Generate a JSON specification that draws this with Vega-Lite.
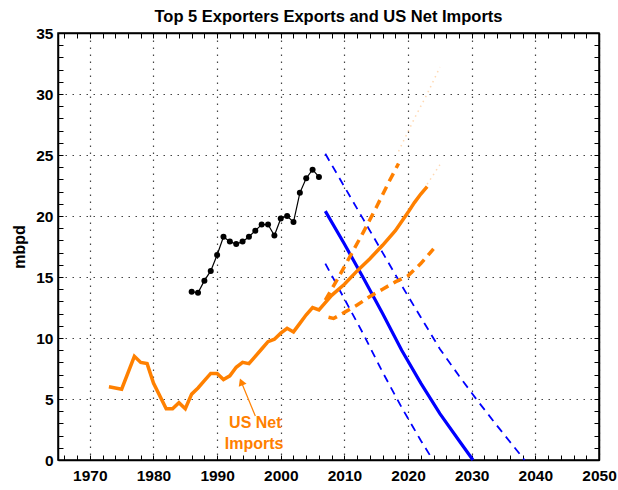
{
  "$schema": "https://vega.github.io/schema/vega-lite/v6.json",
  "width": 541,
  "height": 427,
  "autosize": {"type": "none"},
  "padding": {"left": 58, "top": 33, "right": 19, "bottom": 30},
  "background": "white",
  "title": {"text": "Top 5 Exporters Exports and US Net Imports", "font": "Liberation Sans", "fontSize": 16.5, "fontWeight": "bold", "color": "black", "offset": 1, "anchor": "middle"},
  "config": {
    "view": {"stroke": "black", "strokeWidth": 1.5},
    "axis": {"labelFont": "Liberation Sans", "labelFontSize": 15.5, "labelFontWeight": "bold", "labelColor": "black", "titleFont": "Liberation Sans", "titleFontWeight": "bold", "titleColor": "black", "domainColor": "black", "domainWidth": 1.5, "tickColor": "black"}
  },
  "datasets": {
    "lines": [
      {"series": "exports", "year": 1986, "value": 13.8},
      {"series": "exports", "year": 1987, "value": 13.7},
      {"series": "exports", "year": 1988, "value": 14.7},
      {"series": "exports", "year": 1989, "value": 15.5},
      {"series": "exports", "year": 1990, "value": 16.8},
      {"series": "exports", "year": 1991, "value": 18.3},
      {"series": "exports", "year": 1992, "value": 17.9},
      {"series": "exports", "year": 1993, "value": 17.7},
      {"series": "exports", "year": 1994, "value": 17.9},
      {"series": "exports", "year": 1995, "value": 18.3},
      {"series": "exports", "year": 1996, "value": 18.8},
      {"series": "exports", "year": 1997, "value": 19.3},
      {"series": "exports", "year": 1998, "value": 19.3},
      {"series": "exports", "year": 1999, "value": 18.4},
      {"series": "exports", "year": 2000, "value": 19.8},
      {"series": "exports", "year": 2001, "value": 20.0},
      {"series": "exports", "year": 2002, "value": 19.5},
      {"series": "exports", "year": 2003, "value": 21.9},
      {"series": "exports", "year": 2004, "value": 23.1},
      {"series": "exports", "year": 2005, "value": 23.8},
      {"series": "exports", "year": 2006, "value": 23.2},

      {"series": "imports", "year": 1973, "value": 6.0},
      {"series": "imports", "year": 1975, "value": 5.8},
      {"series": "imports", "year": 1977, "value": 8.5},
      {"series": "imports", "year": 1978, "value": 8.0},
      {"series": "imports", "year": 1979, "value": 7.9},
      {"series": "imports", "year": 1980, "value": 6.3},
      {"series": "imports", "year": 1982, "value": 4.2},
      {"series": "imports", "year": 1983, "value": 4.2},
      {"series": "imports", "year": 1984, "value": 4.7},
      {"series": "imports", "year": 1985, "value": 4.2},
      {"series": "imports", "year": 1986, "value": 5.4},
      {"series": "imports", "year": 1987, "value": 5.9},
      {"series": "imports", "year": 1988, "value": 6.5},
      {"series": "imports", "year": 1989, "value": 7.1},
      {"series": "imports", "year": 1990, "value": 7.1},
      {"series": "imports", "year": 1991, "value": 6.6},
      {"series": "imports", "year": 1992, "value": 6.9},
      {"series": "imports", "year": 1993, "value": 7.6},
      {"series": "imports", "year": 1994, "value": 8.0},
      {"series": "imports", "year": 1995, "value": 7.9},
      {"series": "imports", "year": 1996, "value": 8.5},
      {"series": "imports", "year": 1997, "value": 9.1},
      {"series": "imports", "year": 1998, "value": 9.7},
      {"series": "imports", "year": 1999, "value": 9.9},
      {"series": "imports", "year": 2000, "value": 10.4},
      {"series": "imports", "year": 2001, "value": 10.8},
      {"series": "imports", "year": 2002, "value": 10.5},
      {"series": "imports", "year": 2003, "value": 11.2},
      {"series": "imports", "year": 2004, "value": 11.9},
      {"series": "imports", "year": 2005, "value": 12.5},
      {"series": "imports", "year": 2006, "value": 12.3},
      {"series": "imports", "year": 2007, "value": 12.9},
      {"series": "imports", "year": 2008, "value": 13.5},
      {"series": "imports", "year": 2010, "value": 14.4},
      {"series": "imports", "year": 2012, "value": 15.5},
      {"series": "imports", "year": 2014, "value": 16.5},
      {"series": "imports", "year": 2016, "value": 17.6},
      {"series": "imports", "year": 2018, "value": 18.8},
      {"series": "imports", "year": 2020, "value": 20.3},
      {"series": "imports", "year": 2021, "value": 21.1},
      {"series": "imports", "year": 2022, "value": 21.8},
      {"series": "imports", "year": 2023, "value": 22.4},

      {"series": "imports_hi", "year": 2007, "value": 13.1},
      {"series": "imports_hi", "year": 2009, "value": 14.9},
      {"series": "imports_hi", "year": 2011, "value": 16.8},
      {"series": "imports_hi", "year": 2013, "value": 18.7},
      {"series": "imports_hi", "year": 2015, "value": 20.7},
      {"series": "imports_hi", "year": 2017, "value": 22.8},
      {"series": "imports_hi", "year": 2018.5, "value": 24.3},

      {"series": "imports_lo", "year": 2007.5, "value": 11.7},
      {"series": "imports_lo", "year": 2008.3, "value": 11.6},
      {"series": "imports_lo", "year": 2010, "value": 12.1},
      {"series": "imports_lo", "year": 2012, "value": 12.7},
      {"series": "imports_lo", "year": 2014, "value": 13.4},
      {"series": "imports_lo", "year": 2016, "value": 14.0},
      {"series": "imports_lo", "year": 2018, "value": 14.6},
      {"series": "imports_lo", "year": 2020, "value": 15.1},
      {"series": "imports_lo", "year": 2022, "value": 16.1},
      {"series": "imports_lo", "year": 2024, "value": 17.3},

      {"series": "imports_hi_ext", "year": 2018.5, "value": 25.3},
      {"series": "imports_hi_ext", "year": 2021, "value": 28.0},
      {"series": "imports_hi_ext", "year": 2023, "value": 30.0},
      {"series": "imports_hi_ext", "year": 2025, "value": 32.2},
      {"series": "imports_mid_ext", "year": 2023, "value": 22.6},
      {"series": "imports_mid_ext", "year": 2025, "value": 24.2},

      {"series": "decline", "year": 2007, "value": 20.4},
      {"series": "decline", "year": 2010, "value": 17.7},
      {"series": "decline", "year": 2013, "value": 14.9},
      {"series": "decline", "year": 2016, "value": 12.0},
      {"series": "decline", "year": 2019, "value": 9.0},
      {"series": "decline", "year": 2022, "value": 6.3},
      {"series": "decline", "year": 2025, "value": 3.8},
      {"series": "decline", "year": 2028, "value": 1.6},
      {"series": "decline", "year": 2030.2, "value": 0},

      {"series": "decline_hi", "year": 2007, "value": 25.1},
      {"series": "decline_hi", "year": 2010, "value": 22.4},
      {"series": "decline_hi", "year": 2013, "value": 19.7},
      {"series": "decline_hi", "year": 2016, "value": 17.0},
      {"series": "decline_hi", "year": 2019, "value": 14.3},
      {"series": "decline_hi", "year": 2022, "value": 11.7},
      {"series": "decline_hi", "year": 2025, "value": 9.1},
      {"series": "decline_hi", "year": 2028, "value": 6.9},
      {"series": "decline_hi", "year": 2031, "value": 4.8},
      {"series": "decline_hi", "year": 2034, "value": 2.8},
      {"series": "decline_hi", "year": 2038.3, "value": 0},

      {"series": "decline_lo", "year": 2007, "value": 16.1},
      {"series": "decline_lo", "year": 2010, "value": 13.2},
      {"series": "decline_lo", "year": 2013, "value": 10.3},
      {"series": "decline_lo", "year": 2016, "value": 7.2},
      {"series": "decline_lo", "year": 2019, "value": 4.3},
      {"series": "decline_lo", "year": 2022, "value": 1.6},
      {"series": "decline_lo", "year": 2023.9, "value": 0}
    ],
    "note": [
      {"text": "US Net", "year": 1996.0, "value": 3.0},
      {"text": "Imports", "year": 1995.8, "value": 1.3}
    ],
    "arrow": [
      {"year": 1996.0, "value": 3.6, "year2": 1993.8, "value2": 6.4}
    ]
  },
  "resolve": {"axis": {"x": "independent", "y": "independent"}},
  "layer": [
    {
      "data": {"name": "lines"},
      "transform": [{"filter": "datum.series === 'exports'"}],
      "mark": {"type": "line", "color": "black", "strokeWidth": 1.2, "point": {"filled": true, "size": 36, "color": "black"}},
      "encoding": {
        "x": {"field": "year", "type": "quantitative", "scale": {"domain": [1965, 2050], "nice": false, "zero": false},
          "axis": {"orient": "bottom", "title": null, "values": [1966,1968,1970,1972,1974,1976,1978,1980,1982,1984,1986,1988,1990,1992,1994,1996,1998,2000,2002,2004,2006,2008,2010,2012,2014,2016,2018,2020,2022,2024,2026,2028,2030,2032,2034,2036,2038,2040,2042,2044,2046,2048,2050],
            "format": "d", "labelExpr": "datum.value % 10 === 0 ? datum.label : ''", "tickSize": -5, "labelPadding": 13, "labelFlush": false, "labelOverlap": false,
            "grid": true, "gridColor": "#444", "gridDash": [1.5, 5.5], "gridWidth": 1.2, "gridOpacity": {"condition": {"test": "datum.value % 10 === 0", "value": 1}, "value": 0}}},
        "y": {"field": "value", "type": "quantitative", "scale": {"domain": [0, 35], "nice": false},
          "axis": {"orient": "left", "title": "mbpd", "titleFontSize": 16, "titlePadding": 8, "values": [0,1,2,3,4,5,6,7,8,9,10,11,12,13,14,15,16,17,18,19,20,21,22,23,24,25,26,27,28,29,30,31,32,33,34,35],
            "labelExpr": "datum.value % 5 === 0 ? datum.label : ''", "tickSize": -5, "labelPadding": 10, "labelFlush": false, "labelOverlap": false,
            "grid": true, "gridColor": "#444", "gridDash": [1.5, 5.5], "gridWidth": 1.2, "gridOpacity": {"condition": {"test": "datum.value % 5 === 0", "value": 1}, "value": 0}}}
      }
    },
    {
      "data": {"name": "lines"},
      "transform": [{"filter": "datum.series === 'decline_hi' || datum.series === 'decline_lo'"}],
      "mark": {"type": "line", "color": "#0000ff", "strokeWidth": 1.8, "strokeDash": [8, 6]},
      "encoding": {
        "x": {"field": "year", "type": "quantitative",
          "axis": {"orient": "top", "title": null, "labels": false, "grid": false, "tickSize": -5, "values": [1966,1968,1970,1972,1974,1976,1978,1980,1982,1984,1986,1988,1990,1992,1994,1996,1998,2000,2002,2004,2006,2008,2010,2012,2014,2016,2018,2020,2022,2024,2026,2028,2030,2032,2034,2036,2038,2040,2042,2044,2046,2048,2050]}},
        "y": {"field": "value", "type": "quantitative",
          "axis": {"orient": "right", "title": null, "labels": false, "grid": false, "tickSize": -5, "values": [0,1,2,3,4,5,6,7,8,9,10,11,12,13,14,15,16,17,18,19,20,21,22,23,24,25,26,27,28,29,30,31,32,33,34,35]}},
        "detail": {"field": "series"}
      }
    },
    {
      "data": {"name": "lines"},
      "transform": [{"filter": "datum.series === 'decline'"}],
      "mark": {"type": "line", "color": "#0000ff", "strokeWidth": 3.2},
      "encoding": {
        "x": {"field": "year", "type": "quantitative", "axis": null},
        "y": {"field": "value", "type": "quantitative", "axis": null}
      }
    },
    {
      "data": {"name": "lines"},
      "transform": [{"filter": "datum.series === 'imports_hi_ext' || datum.series === 'imports_mid_ext'"}],
      "mark": {"type": "line", "color": "#ff8000", "strokeWidth": 1.5, "strokeDash": [1.5, 4], "opacity": 0.3},
      "encoding": {
        "x": {"field": "year", "type": "quantitative", "axis": null},
        "y": {"field": "value", "type": "quantitative", "axis": null},
        "detail": {"field": "series"}
      }
    },
    {
      "data": {"name": "lines"},
      "transform": [{"filter": "datum.series === 'imports_hi' || datum.series === 'imports_lo'"}],
      "mark": {"type": "line", "color": "#ff8000", "strokeWidth": 3.5, "strokeDash": [9, 6]},
      "encoding": {
        "x": {"field": "year", "type": "quantitative", "axis": null},
        "y": {"field": "value", "type": "quantitative", "axis": null},
        "detail": {"field": "series"}
      }
    },
    {
      "data": {"name": "lines"},
      "transform": [{"filter": "datum.series === 'imports'"}],
      "mark": {"type": "line", "color": "#ff8000", "strokeWidth": 3.5},
      "encoding": {
        "x": {"field": "year", "type": "quantitative", "axis": null},
        "y": {"field": "value", "type": "quantitative", "axis": null}
      }
    },
    {
      "data": {"name": "arrow"},
      "mark": {"type": "rule", "color": "#ff8000", "strokeWidth": 1.2},
      "encoding": {
        "x": {"field": "year", "type": "quantitative", "axis": null},
        "y": {"field": "value", "type": "quantitative", "axis": null},
        "x2": {"field": "year2"},
        "y2": {"field": "value2"}
      }
    },
    {
      "data": {"name": "arrow"},
      "mark": {"type": "point", "shape": "triangle-up", "filled": true, "color": "#ff8000", "opacity": 1, "size": 70, "angle": 338},
      "encoding": {
        "x": {"field": "year2", "type": "quantitative", "axis": null},
        "y": {"field": "value2", "type": "quantitative", "axis": null}
      }
    },
    {
      "data": {"name": "note"},
      "mark": {"type": "text", "color": "#ff8000", "font": "Liberation Sans", "fontSize": 16, "fontWeight": "bold", "align": "center", "baseline": "middle"},
      "encoding": {
        "x": {"field": "year", "type": "quantitative", "axis": null},
        "y": {"field": "value", "type": "quantitative", "axis": null},
        "text": {"field": "text"}
      }
    }
  ]
}
